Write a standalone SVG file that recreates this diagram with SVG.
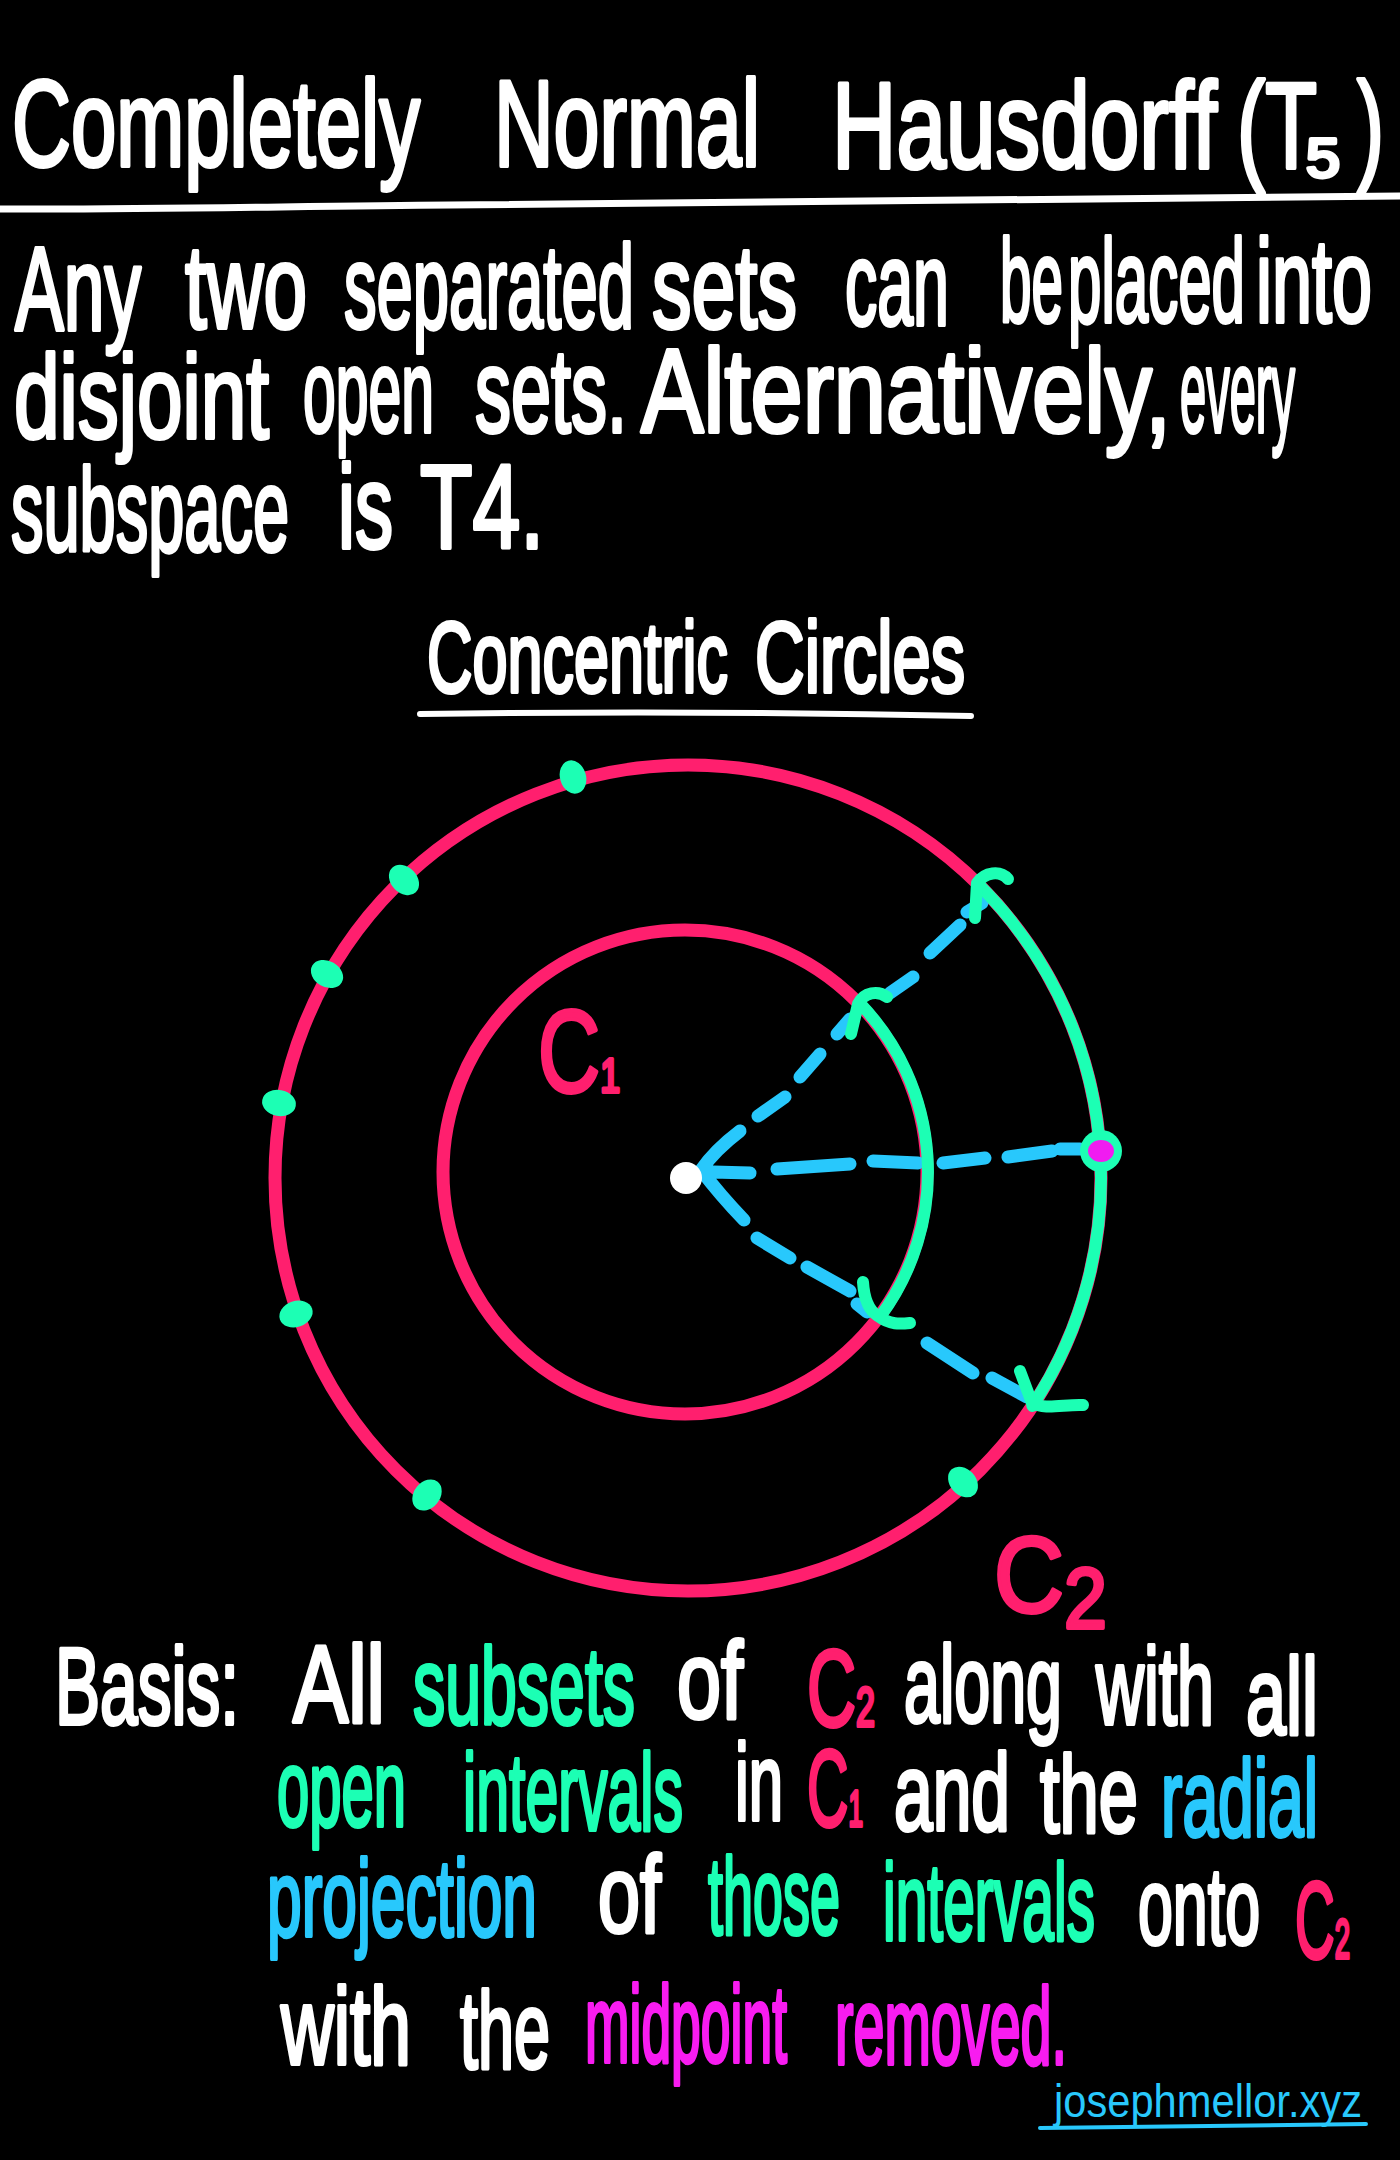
<svg xmlns="http://www.w3.org/2000/svg" width="1400" height="2160" viewBox="0 0 1400 2160">
<style>
.t{font-family:"Liberation Sans",Arial,sans-serif;stroke-linejoin:round;stroke-width:4}
.w{fill:#fff;stroke:#fff}
.pk{fill:#ff1f6e;stroke:#ff1f6e}
.gr{fill:#1cffb4;stroke:#1cffb4}
.bl{fill:#28c8fc;stroke:#28c8fc}
.mg{fill:#f81cf0;stroke:#f81cf0}
.ttl{font-size:122px}
.bd{font-size:118px}
.hd{font-size:100px}
.bs{font-size:110px}
.ring{fill:none;stroke:#ff1f6e;stroke-width:13}
.arc{fill:none;stroke:#1cffb4;stroke-width:12;stroke-linecap:round;stroke-linejoin:round}
.dash{fill:none;stroke:#28c8fc;stroke-width:13;stroke-linecap:round;stroke-linejoin:round}
.ul{fill:none;stroke-linecap:round}
.dot{fill:#1cffb4}
</style>
<rect width="1400" height="2160" fill="#000"/>

<g id="title">
<text class="t w ttl" x="12" y="166" textLength="408" lengthAdjust="spacingAndGlyphs">Completely</text>
<text class="t w ttl" x="494" y="166" textLength="266" lengthAdjust="spacingAndGlyphs">Normal</text>
<text class="t w ttl" x="832" y="168" textLength="385" lengthAdjust="spacingAndGlyphs">Hausdorff</text>
<text class="t w ttl" x="1237" y="168" textLength="80" lengthAdjust="spacingAndGlyphs">(T</text>
<text class="t w" x="1306" y="177" font-size="55" textLength="34" lengthAdjust="spacingAndGlyphs">5</text>
<text class="t w ttl" x="1357" y="168" textLength="27" lengthAdjust="spacingAndGlyphs">)</text>
<path class="ul" stroke="#fff" stroke-width="7" d="M0 209 C150 210 300 206 450 205 S900 199 1400 196"/>
</g>

<g id="intro">
<text class="t w bd" x="15" y="330" textLength="126" lengthAdjust="spacingAndGlyphs">Any</text>
<text class="t w bd" x="185" y="328" textLength="122" lengthAdjust="spacingAndGlyphs">two</text>
<text class="t w bd" x="344" y="328" textLength="290" lengthAdjust="spacingAndGlyphs">separated</text>
<text class="t w bd" x="652" y="328" textLength="145" lengthAdjust="spacingAndGlyphs">sets</text>
<text class="t w bd" x="845" y="325" textLength="104" lengthAdjust="spacingAndGlyphs">can</text>
<text class="t w bd" x="1000" y="322" textLength="63" lengthAdjust="spacingAndGlyphs">be</text>
<text class="t w bd" x="1068" y="322" textLength="177" lengthAdjust="spacingAndGlyphs">placed</text>
<text class="t w bd" x="1256" y="322" textLength="116" lengthAdjust="spacingAndGlyphs">into</text>
<text class="t w bd" x="14" y="438" textLength="255" lengthAdjust="spacingAndGlyphs">disjoint</text>
<text class="t w bd" x="303" y="432" textLength="131" lengthAdjust="spacingAndGlyphs">open</text>
<text class="t w bd" x="475" y="432" textLength="152" lengthAdjust="spacingAndGlyphs">sets.</text>
<text class="t w bd" x="641" y="432" textLength="530" lengthAdjust="spacingAndGlyphs">Alternatively,</text>
<text class="t w bd" x="1180" y="432" textLength="115" lengthAdjust="spacingAndGlyphs">every</text>
<text class="t w bd" x="11" y="551" textLength="278" lengthAdjust="spacingAndGlyphs">subspace</text>
<text class="t w bd" x="338" y="548" textLength="55" lengthAdjust="spacingAndGlyphs">is</text>
<text class="t w bd" x="420" y="548" textLength="124" lengthAdjust="spacingAndGlyphs">T4.</text>
</g>

<g id="heading">
<text class="t w hd" x="427" y="692" textLength="301" lengthAdjust="spacingAndGlyphs">Concentric</text>
<text class="t w hd" x="755" y="692" textLength="210" lengthAdjust="spacingAndGlyphs">Circles</text>
<path class="ul" stroke="#fff" stroke-width="6" d="M420 714 Q690 710 971 716"/>
</g>

<g id="circle-c2">
<circle class="ring" cx="688" cy="1178" r="413"/>
<text class="t pk" x="994" y="1612" font-size="108" textLength="113" lengthAdjust="spacingAndGlyphs">C<tspan font-size="86" dy="16">2</tspan></text>
</g>

<g id="circle-c1">
<circle class="ring" cx="685" cy="1172" r="242"/>
<text class="t pk" x="538" y="1092" font-size="116" textLength="82" lengthAdjust="spacingAndGlyphs">C<tspan font-size="48">1</tspan></text>
</g>

<g id="connectors">
<path class="dash" d="M740 1131 Q715 1150 701 1170 Q720 1195 744 1220 M713 1172 L750 1173"/>
<path class="dash" d="M758 1116 L785 1097 M800 1077 L820 1054 M837 1034 L850 1019 M890 993 L913 977 M930 953 L960 925 M967 912 L982 903"/>
<path class="dash" d="M777 1169 L850 1164 M873 1161 L918 1163 M943 1163 L985 1158 M1008 1157 L1052 1151 M1060 1149 L1080 1149"/>
<path class="dash" d="M757 1238 L790 1258 M807 1267 L850 1291 M857 1304 L867 1312 M927 1343 L973 1373 M992 1378 L1027 1397"/>
<path class="arc" d="M977.5 883.4 A413 413 0 0 1 1032.4 1405.9"/>
<path class="arc" d="M1008 879 C1000 870 985 872 977 883 L975 918"/>
<path class="arc" d="M1020 1371 L1032 1403 C1045 1410 1065 1404 1083 1405"/>
<path class="arc" d="M859.8 1003.2 A243 243 0 0 1 880.3 1316.5"/>
<path class="arc" d="M887 997 C878 990 864 992 858 1004 L851 1034"/>
<path class="arc" d="M863 1282 C864 1298 868 1310 878 1316 C890 1325 900 1324 910 1323"/>
</g>

<g id="center-point">
<circle cx="686" cy="1178" r="16" fill="#fff"/>
</g>

<g id="midpoint">
<circle cx="1101" cy="1151" r="21" fill="#1cffb4"/>
<ellipse cx="1101" cy="1151" rx="13" ry="11" fill="#f01cf0"/>
</g>

<g id="subset-points">
<ellipse class="dot" cx="573" cy="777" rx="17" ry="13" transform="rotate(-106 573 777)"/>
<ellipse class="dot" cx="404" cy="880" rx="17" ry="13" transform="rotate(-134 404 880)"/>
<ellipse class="dot" cx="327" cy="974" rx="17" ry="13" transform="rotate(-150 327 974)"/>
<ellipse class="dot" cx="279" cy="1103" rx="17" ry="13" transform="rotate(-170 279 1103)"/>
<ellipse class="dot" cx="296" cy="1314" rx="17" ry="13" transform="rotate(161 296 1314)"/>
<ellipse class="dot" cx="427" cy="1495" rx="17" ry="13" transform="rotate(129 427 1495)"/>
<ellipse class="dot" cx="963" cy="1482" rx="17" ry="13" transform="rotate(48 963 1482)"/>
</g>

<g id="basis">
<text class="t w bs" x="55" y="1724" textLength="184" lengthAdjust="spacingAndGlyphs">Basis:</text>
<text class="t w bs" x="293" y="1722" textLength="92" lengthAdjust="spacingAndGlyphs">All</text>
<text class="t gr bs" x="413" y="1724" textLength="222" lengthAdjust="spacingAndGlyphs">subsets</text>
<text class="t w bs" x="677" y="1718" textLength="66" lengthAdjust="spacingAndGlyphs">of</text>
<text class="t pk bs" x="807" y="1726" textLength="68" lengthAdjust="spacingAndGlyphs">C<tspan font-size="55">2</tspan></text>
<text class="t w bs" x="904" y="1722" textLength="158" lengthAdjust="spacingAndGlyphs">along</text>
<text class="t w bs" x="1096" y="1724" textLength="118" lengthAdjust="spacingAndGlyphs">with</text>
<text class="t w bs" x="1246" y="1734" textLength="72" lengthAdjust="spacingAndGlyphs">all</text>

<text class="t gr bs" x="277" y="1826" textLength="129" lengthAdjust="spacingAndGlyphs">open</text>
<text class="t gr bs" x="463" y="1830" textLength="220" lengthAdjust="spacingAndGlyphs">intervals</text>
<text class="t w bs" x="735" y="1820" textLength="48" lengthAdjust="spacingAndGlyphs">in</text>
<text class="t pk bs" x="807" y="1826" textLength="56" lengthAdjust="spacingAndGlyphs">C<tspan font-size="50">1</tspan></text>
<text class="t w bs" x="894" y="1830" textLength="116" lengthAdjust="spacingAndGlyphs">and</text>
<text class="t w bs" x="1040" y="1832" textLength="98" lengthAdjust="spacingAndGlyphs">the</text>
<text class="t bl bs" x="1161" y="1836" textLength="157" lengthAdjust="spacingAndGlyphs">radial</text>

<text class="t bl bs" x="267" y="1936" textLength="270" lengthAdjust="spacingAndGlyphs">projection</text>
<text class="t w bs" x="598" y="1932" textLength="63" lengthAdjust="spacingAndGlyphs">of</text>
<text class="t gr bs" x="708" y="1934" textLength="132" lengthAdjust="spacingAndGlyphs">those</text>
<text class="t gr bs" x="883" y="1940" textLength="212" lengthAdjust="spacingAndGlyphs">intervals</text>
<text class="t w bs" x="1138" y="1944" textLength="122" lengthAdjust="spacingAndGlyphs">onto</text>
<text class="t pk bs" x="1295" y="1958" textLength="55" lengthAdjust="spacingAndGlyphs">C<tspan font-size="55">2</tspan></text>

<text class="t w bs" x="281" y="2064" textLength="130" lengthAdjust="spacingAndGlyphs">with</text>
<text class="t w bs" x="460" y="2068" textLength="90" lengthAdjust="spacingAndGlyphs">the</text>
<text class="t mg bs" x="585" y="2062" textLength="202" lengthAdjust="spacingAndGlyphs">midpoint</text>
<text class="t mg bs" x="835" y="2064" textLength="232" lengthAdjust="spacingAndGlyphs">removed.</text>
</g>

<g id="signature">
<text x="1054" y="2117" font-family="Liberation Sans, Arial, sans-serif" font-size="46" fill="#28c8fc" textLength="308" lengthAdjust="spacingAndGlyphs">josephmellor.xyz</text>
<path class="ul" stroke="#28c8fc" stroke-width="4" d="M1040 2128 L1366 2124"/>
</g>
</svg>
